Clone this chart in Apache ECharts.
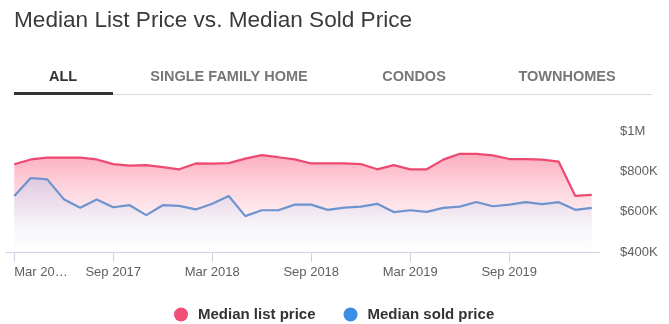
<!DOCTYPE html>
<html><head><meta charset="utf-8">
<script src="https://cdn.jsdelivr.net/npm/echarts@6/dist/echarts.min.js"></script>
<style>html,body{margin:0;padding:0;background:#fff}#c{width:669px;height:324px}</style>
</head><body><div id="c"></div>
<script>
const months = ['Mar 2017','Apr 2017','May 2017','Jun 2017','Jul 2017','Aug 2017','Sep 2017','Oct 2017','Nov 2017','Dec 2017','Jan 2018','Feb 2018',
  'Mar 2018','Apr 2018','May 2018','Jun 2018','Jul 2018','Aug 2018','Sep 2018','Oct 2018','Nov 2018','Dec 2018','Jan 2019','Feb 2019',
  'Mar 2019','Apr 2019','May 2019','Jun 2019','Jul 2019','Aug 2019','Sep 2019','Oct 2019','Nov 2019','Dec 2019','Jan 2020','Feb 2020'];
const listPrice = [835000,859000,868000,868000,868000,859000,836000,828000,831000,821000,810000,839000,
  838000,841000,863000,880000,870000,859000,839000,839000,839000,836000,810000,831000,
  810000,810000,858000,887000,887000,879000,861000,861000,858000,848000,678000,683000];
const soldPrice = [678000,767000,760000,662000,619000,660000,622000,632000,583000,632000,629000,611000,
  639000,678000,578000,607000,607000,635000,635000,609000,620000,625000,639000,598000,
  607000,599000,619000,625000,648000,627000,635000,647000,637000,647000,609000,619000];
const xTickLabels = ['Mar 20\u2026','Sep 2017','Mar 2018','Sep 2018','Mar 2019','Sep 2019'];
const yTickLabels = ['$400K','$600K','$800K','$1M'];
const tabLabels = ['ALL','SINGLE FAMILY HOME','CONDOS','TOWNHOMES'];
const seriesNames = ['Median list price','Median sold price'];
const titleText = 'Median List Price vs. Median Sold Price';

const tabCenters = [63, 229, 414, 567];
const FONT = '"Liberation Sans", Arial, sans-serif';

const chart = echarts.init(document.getElementById('c'), null, {renderer: 'canvas'});
const graphics = [
  {type: 'rect', shape: {x: 14, y: 94, width: 638, height: 1}, style: {fill: '#dcdcdc'}, silent: true},
  {type: 'rect', shape: {x: 14, y: 92, width: 99, height: 3}, style: {fill: '#333333'}, silent: true}
];
tabLabels.forEach((t, i) => {
  graphics.push({type: 'text', x: tabCenters[i], y: 77, silent: true,
    style: {text: t, fill: i === 0 ? '#333333' : '#777777', fontSize: 14.5, fontWeight: 'bold', fontFamily: FONT,
      align: 'center', verticalAlign: 'middle'}});
});

chart.setOption({
  animation: false,
  title: {text: titleText, left: 14, top: 9, padding: 0,
    textStyle: {fontSize: 22.6, fontWeight: 'normal', color: '#3a3a3a', fontFamily: FONT}},
  graphic: graphics,
  grid: {left: 6, right: 69, top: 131, bottom: 72},
  legend: {
    left: 169, top: 302, icon: 'circle', itemWidth: 24, itemHeight: 14, itemGap: 28,
    textStyle: {fontSize: 15, fontWeight: 'bold', color: '#333333', fontFamily: FONT},
    data: [
      {name: seriesNames[0], itemStyle: {color: '#f24f78'}},
      {name: seriesNames[1], itemStyle: {color: '#3a8ee6'}}
    ]
  },
  xAxis: {
    type: 'category', data: months, boundaryGap: true,
    axisLine: {show: true, lineStyle: {color: '#ccd3e3', width: 1}},
    axisTick: {show: true, alignWithLabel: true, interval: 5, length: 10, lineStyle: {color: '#ccd3e3', width: 1}},
    axisLabel: {interval: 5, margin: 14, color: '#606060', fontSize: 13, fontFamily: FONT,
      alignMinLabel: 'left',
      formatter: (v, idx) => xTickLabels[Math.round(idx / 6)]},
    splitLine: {show: false}
  },
  yAxis: {
    type: 'value', position: 'right', min: 400000, max: 1000000, interval: 200000,
    axisLine: {show: false}, axisTick: {show: false}, splitLine: {show: false},
    axisLabel: {margin: 20, color: '#606060', fontSize: 13, fontFamily: FONT,
      formatter: v => yTickLabels[Math.round((v - 400000) / 200000)]}
  },
  series: [
    {name: seriesNames[0], type: 'line', data: listPrice, symbol: 'none', z: 2,
      itemStyle: {color: '#f24f78'},
      lineStyle: {color: '#ec4a70', width: 2.2},
      areaStyle: {color: new echarts.graphic.LinearGradient(0, 0, 0, 1, [
        {offset: 0, color: 'rgba(250,90,125,0.72)'},
        {offset: 0.55, color: 'rgba(250,160,182,0.38)'},
        {offset: 0.9, color: 'rgba(255,255,255,0)'},
        {offset: 1, color: 'rgba(255,255,255,0)'}])}},
    {name: seriesNames[1], type: 'line', data: soldPrice, symbol: 'none', z: 3,
      itemStyle: {color: '#3a8ee6'},
      lineStyle: {color: '#6d94cc', width: 2.2},
      areaStyle: {color: new echarts.graphic.LinearGradient(0, 0, 0, 1, [
        {offset: 0, color: 'rgba(195,200,235,0.75)'},
        {offset: 0.6, color: 'rgba(235,235,245,0.6)'},
        {offset: 1, color: 'rgba(255,255,255,0.9)'}])}}
  ]
});
</script></body></html>
